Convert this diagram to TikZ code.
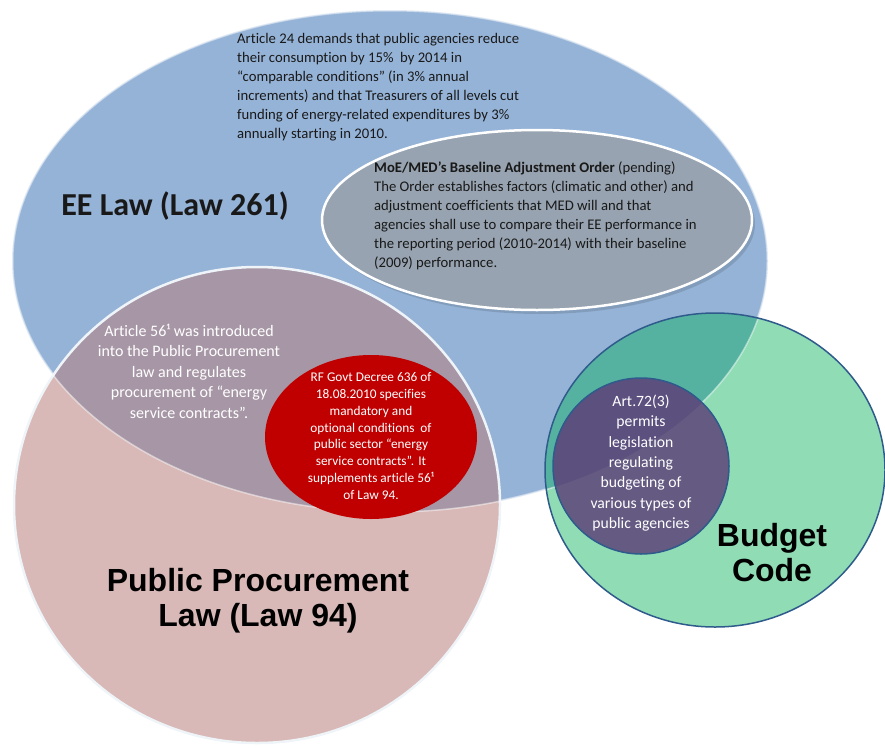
\documentclass[tikz,border=0pt]{standalone}
\usepackage{fontspec}
\setmainfont{Carlito}[Ligatures=NoCommon]
\newfontfamily\headfont{Liberation Sans}
\usepackage{xcolor}
\usepackage{tikz}
\usetikzlibrary{positioning}
\definecolor{eeblue}{HTML}{95B3D7}
\definecolor{ordergrey}{HTML}{97A3B0}
\definecolor{procpink}{HTML}{D8B9B7}
\definecolor{procmauve}{HTML}{A797A6}
\definecolor{decreered}{HTML}{C00000}
\definecolor{budgetgreen}{HTML}{8FDCB5}
\definecolor{budgetteal}{HTML}{55B2A0}
\definecolor{artpurple}{HTML}{655A82}
\definecolor{artpurpledark}{HTML}{5C507F}
\definecolor{rimblue}{HTML}{2F5B8C}

\begin{document}
\begin{tikzpicture}[x=1pt, y=-1pt,
  txt/.style={inner sep=0pt, text=black!90},
  bodytext/.style={txt, align=left, font=\fontsize{14.7}{19}\selectfont},
  whitetext/.style={inner sep=0pt, text=white, align=center},
  lawtitle/.style={inner sep=0pt, align=center, font=\headfont\bfseries\fontsize{32}{35}\selectfont},
]
  \useasboundingbox (0,0) rectangle (885,747);

  % EE law and the baseline order inside it
  \fill[eeblue] (390,261) ellipse [x radius=378, y radius=251];
  \draw[white, line width=3pt, opacity=.45] (390,261) ellipse [x radius=378, y radius=251];
  \fill[black, opacity=.12] (540,224) ellipse [x radius=215, y radius=90];
  \filldraw[fill=ordergrey, draw=white, line width=2.5pt] (537,220) ellipse [x radius=215, y radius=90];

  % procurement law, darker where it sits on the EE law
  \fill[procpink] (257,505) ellipse [x radius=243, y radius=238];
  \begin{scope}
    \clip (390,261) ellipse [x radius=378, y radius=251];
    \fill[procmauve] (257,505) ellipse [x radius=243, y radius=238];
  \end{scope}
  \draw[white!85!eeblue, line width=2.5pt] (257,505) ellipse [x radius=243, y radius=238];

  % budget code, teal where it sits on the EE law
  \fill[budgetgreen] (715,470) ellipse [x radius=170, y radius=157];
  \begin{scope}
    \clip (390,261) ellipse [x radius=378, y radius=251];
    \fill[budgetteal] (715,470) ellipse [x radius=170, y radius=157];
  \end{scope}

  % rim of the EE law showing through the other two
  \draw[white, line width=1.5pt, opacity=.5] (390,261) ellipse [x radius=378, y radius=251];
  \draw[rimblue, line width=1.5pt] (715,470) ellipse [x radius=170, y radius=157];

  \fill[decreered] (371,437) ellipse [x radius=106, y radius=82];
  \fill[artpurple] (641,466) circle [radius=88];
  \begin{scope}
    \clip (390,261) ellipse [x radius=378, y radius=251];
    \fill[artpurpledark] (641,466) circle [radius=88];
  \end{scope}
  \draw[rimblue, line width=1.5pt] (641,466) circle [radius=88];

  % texts
  \node[bodytext, anchor=north west] (art24) at (237,33)
    {Article 24 demands that public agencies reduce\\
     their consumption by 15\%\ \ by 2014 in\\
     “comparable conditions” (in 3\% annual\\
     increments) and that Treasurers of all levels cut\\
     funding of energy-related expenditures by 3\%\\
     annually starting in 2010.};
  \node[bodytext, anchor=north west] (order) at (374,162)
    {\textbf{MoE/MED’s Baseline Adjustment Order} (pending)\\
     The Order establishes factors (climatic and other) and\\
     adjustment coefficients that MED will and that\\
     agencies shall use to compare their EE performance in\\
     the reporting period (2010-2014) with their baseline\\
     (2009) performance.};
  \node[txt, font=\bfseries\fontsize{32}{36}\selectfont] (eelaw) at (175,206) {EE Law (Law 261)};

  \node[whitetext, anchor=north, font=\fontsize{16}{20.4}\selectfont] (art56) at (189,324)
    {Article 56¹ was introduced\\
     into the Public Procurement\\
     law and regulates\\
     procurement of “energy\\
     service contracts”.};
  \node[whitetext, anchor=north, font=\fontsize{13.3}{16.9}\selectfont] (decree) at (371,372)
    {RF Govt Decree 636 of\\
     18.08.2010 specifies\\
     mandatory and\\
     optional conditions\ \ of\\
     public sector “energy\\
     service contracts”. It\\
     supplements article 56¹\\
     of Law 94.};
  \node[whitetext, anchor=north, font=\fontsize{15.7}{20.3}\selectfont] (art72) at (641,395)
    {Art.72(3)\\ permits\\ legislation\\ regulating\\ budgeting of\\ various types of\\ public agencies};

  \node[lawtitle] (proclaw) at (258,601) {Public Procurement\\Law (Law 94)};
  \node[lawtitle] (budget) at (772,553) {Budget\\Code};
\end{tikzpicture}
\end{document}
